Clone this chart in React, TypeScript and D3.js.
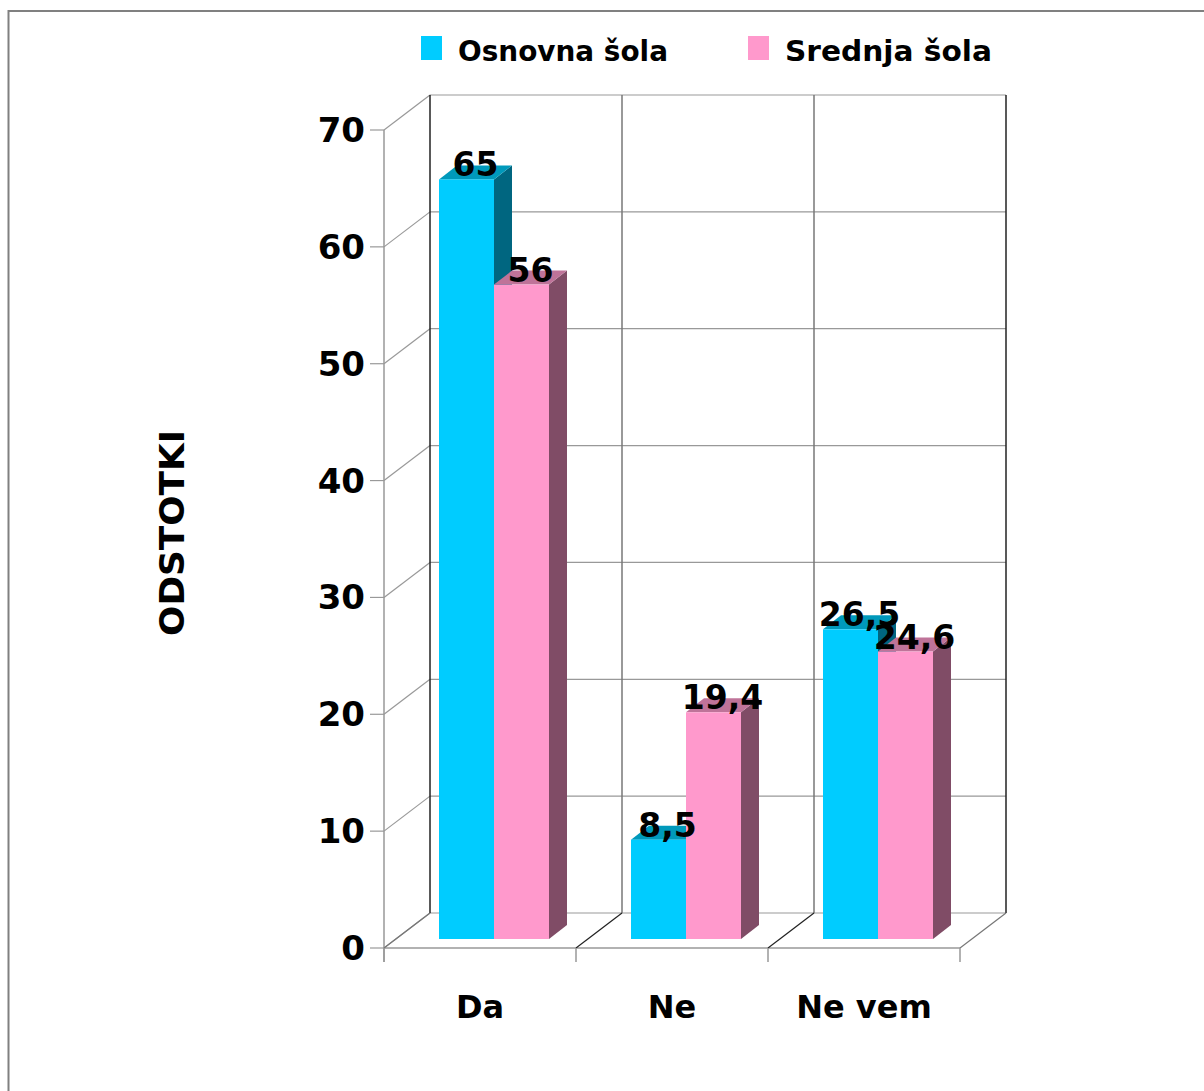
import React from "react";
import * as d3 from "d3";

const categories = ["Da", "Ne", "Ne vem"];
const seriesNames = ["Osnovna šola", "Srednja šola"];
const osnovna = [65, 8.5, 26.5];
const srednja = [56, 19.4, 24.6];
const yTicks = [0, 10, 20, 30, 40, 50, 60, 70];

const FONT = "'Comic Sans MS', 'DejaVu Sans', sans-serif";
const faceColors = [
  { front: "#00CCFF", top: "#0099BB", side: "#006680" },
  { front: "#FF99CC", top: "#BF7399", side: "#804C66" },
];

export default function App() {
  const W = 1204, H = 1091;
  const x0 = 384, x1 = 960;
  const yFront = d3.scaleLinear().domain([0, 70]).range([948, 130]);
  const DX = 46, DY = -35;
  const xBand = d3.scaleBand().domain(categories).range([x0, x1]).paddingInner(0).paddingOuter(0);
  const bw = xBand.bandwidth();
  const barOff = 55, barW = 55;
  const barBaseY = 939;
  const bDX = 18, bDY = -14;
  const unit = (yFront(0) - yFront(70)) / 70;
  const series = [osnovna, srednja];
  const fmt = (v: number) => String(v).replace(".", ",");

  const gridColor = "#999";
  const bounds = categories.map((c) => xBand(c)!).concat([x1]);

  return (
    <svg width={W} height={H} style={{ display: "block", position: "absolute", left: 0, top: 0 }} fontFamily={FONT}>
      <rect x={8.5} y={11} width={W + 10} height={H + 10} fill="white" stroke="#808080" strokeWidth={2} />
      {yTicks.map((t) => (
        <g key={"g" + t}>
          <line x1={x0 + DX} x2={x1 + DX} y1={yFront(t) + DY} y2={yFront(t) + DY} stroke={gridColor} strokeWidth={1.2} />
          <line x1={x0} y1={yFront(t)} x2={x0 + DX} y2={yFront(t) + DY} stroke={gridColor} strokeWidth={1.2} />
          <line x1={x0 - 14} x2={x0} y1={yFront(t)} y2={yFront(t)} stroke={gridColor} strokeWidth={1.2} />
        </g>
      ))}
      {bounds.map((bx, i) => (
        <line key={"v" + i} x1={bx + DX} x2={bx + DX} y1={yFront(70) + DY} y2={yFront(0) + DY}
          stroke={i === 0 || i === bounds.length - 1 ? "#222" : "#777"} strokeWidth={1.5} />
      ))}
      <line x1={x0} x2={x0} y1={yFront(70)} y2={yFront(0) + 14} stroke={gridColor} strokeWidth={1.5} />
      <line x1={x0} x2={x1} y1={yFront(0)} y2={yFront(0)} stroke={gridColor} strokeWidth={1.5} />
      {bounds.map((bx, i) => (
        <g key={"f" + i}>
          <line x1={bx} y1={yFront(0)} x2={bx + DX} y2={yFront(0) + DY} stroke={i === 0 || i === 3 ? "#777" : "#222"} strokeWidth={1.2} />
          <line x1={bx} x2={bx} y1={yFront(0)} y2={yFront(0) + 14} stroke={gridColor} strokeWidth={1.5} />
        </g>
      ))}
      {categories.map((c, ci) => (
        <g key={"b" + c}>
          {series.map((s, si) => {
            const bx = xBand(c)! + barOff + si * barW;
            const h = s[ci] * unit;
            const top = barBaseY - h;
            const col = faceColors[si];
            return (
              <g key={si}>
                <path d={`M${bx + barW},${barBaseY}L${bx + barW + bDX},${barBaseY + bDY}L${bx + barW + bDX},${top + bDY}L${bx + barW},${top}Z`} fill={col.side} />
                <path d={`M${bx},${top}L${bx + bDX},${top + bDY}L${bx + barW + bDX},${top + bDY}L${bx + barW},${top}Z`} fill={col.top} />
                <rect x={bx} y={top} width={barW} height={h} fill={col.front} />
              </g>
            );
          })}
        </g>
      ))}
      {categories.map((c, ci) =>
        series.map((s, si) => {
          const bx = xBand(c)! + barOff + si * barW;
          const top = barBaseY - s[ci] * unit;
          return (
            <text key={"l" + ci + si} x={bx + barW / 2 + 9} y={top - 3} textAnchor="middle"
              fontSize={33} fontWeight="bold" fill="#000">{fmt(s[ci])}</text>
          );
        })
      )}
      {yTicks.map((t) => (
        <text key={"t" + t} x={365} y={yFront(t) + 12} textAnchor="end" fontSize={34} fontWeight="bold">{t}</text>
      ))}
      {categories.map((c) => (
        <text key={"x" + c} x={xBand(c)! + bw / 2} y={1018} textAnchor="middle" fontSize={32} fontWeight="bold">{c}</text>
      ))}
      <text transform="translate(184,533) rotate(-90)" textAnchor="middle" fontSize={34} fontWeight="bold"
        textLength={206} lengthAdjust="spacingAndGlyphs">ODSTOTKI</text>
      {seriesNames.map((n, i) => {
        const lx = [421, 748][i];
        return (
          <g key={"lg" + i}>
            <rect x={lx} y={36} width={21} height={24} fill={faceColors[i].front} />
            <text x={lx + 37} y={61} fontSize={29} fontWeight="bold"
              textLength={[210, 207][i]} lengthAdjust="spacingAndGlyphs">{n}</text>
          </g>
        );
      })}
    </svg>
  );
}
